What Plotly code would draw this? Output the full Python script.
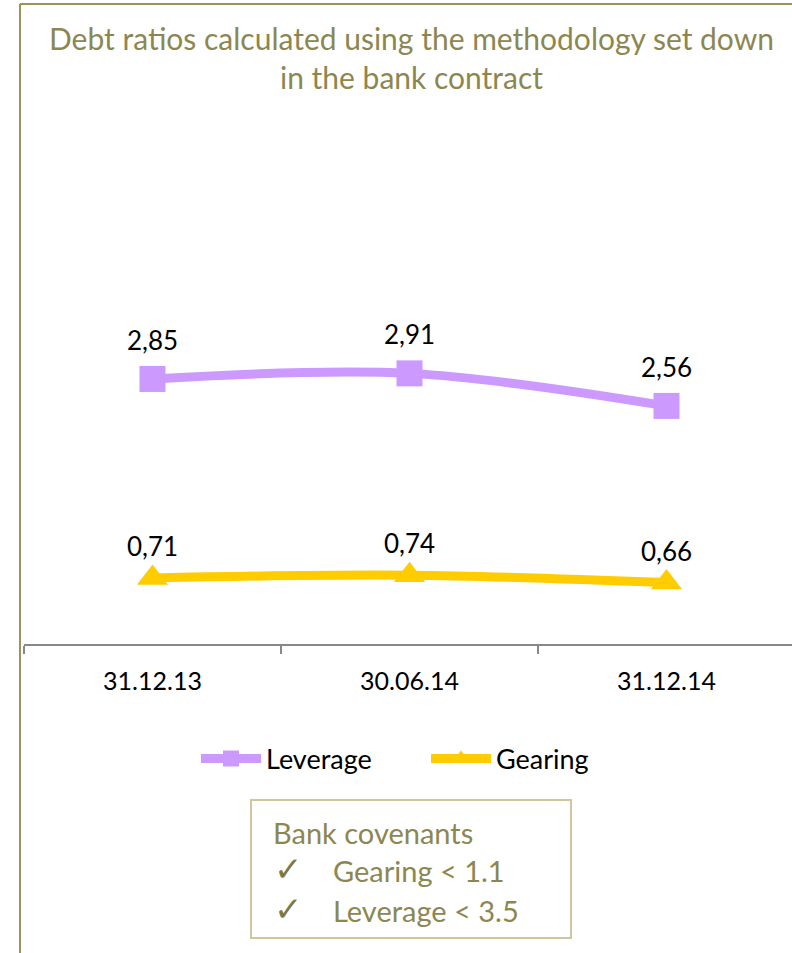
import plotly.graph_objects as go

categories = ["31.12.13", "30.06.14", "31.12.14"]
leverage = [2.85, 2.91, 2.56]
gearing = [0.71, 0.74, 0.66]
title_text = "Debt ratios calculated using the methodology set down<br>in the bank contract"
covenant_lines = ["Bank covenants", "\u2713", "Gearing < 1.1", "\u2713", "Leverage < 3.5"]

W, H = 792, 953
ML, MT, MB = 24, 179, 309
PW = W - ML
PH = H - MT - MB

def px(x):
    return (x - ML) / PW

def py(y):
    return (H - MB - y) / PH

OLIVE = "#8C8750"
FONT = "Lato, 'Open Sans', sans-serif"

fig = go.Figure()
fig.add_trace(go.Scatter(
    x=categories, y=leverage, name="Leverage", mode="lines+markers",
    line=dict(color="#CC99FF", width=9, shape="spline", smoothing=1),
    marker=dict(symbol="square", size=26, color="#CC99FF"),
))
fig.add_trace(go.Scatter(
    x=categories, y=gearing, name="Gearing", mode="lines+markers",
    line=dict(color="#FFCC00", width=9, shape="spline", smoothing=1),
    marker=dict(symbol="triangle-up", size=27, color="#FFCC00"),
))

for series, shift in ((leverage, 39), (gearing, 32)):
    for c, v in zip(categories, series):
        fig.add_annotation(x=c, y=v, text=f"{v:.2f}".replace(".", ","), showarrow=False,
                           yshift=shift, font=dict(size=26, color="#000000", family=FONT))

# title
fig.add_annotation(xref="paper", yref="paper", x=px(411), y=py(58), text=title_text,
                   showarrow=False, xanchor="center", yanchor="middle",
                   font=dict(size=30, color=OLIVE, family=FONT), align="center")

# frame
fig.add_shape(type="line", xref="paper", yref="paper", x0=px(20), x1=px(20), y0=py(4), y1=py(960),
              line=dict(color="#9A9458", width=2))
fig.add_shape(type="line", xref="paper", yref="paper", x0=px(20), x1=px(800), y0=py(4), y1=py(4),
              line=dict(color="#9A9458", width=2))

# covenant box
fig.add_shape(type="rect", xref="paper", yref="paper", x0=px(251), x1=px(571), y0=py(800), y1=py(938),
              line=dict(color="#CFC59E", width=2), fillcolor="white")
cov_pos = [(271, 832), (272, 869), (331, 870), (272, 909), (331, 910)]
for t, (xx, yy) in zip(covenant_lines, cov_pos):
    is_check = t == "\u2713"
    fig.add_annotation(xref="paper", yref="paper", x=px(xx), y=py(yy), text=t, showarrow=False,
                       xanchor="left", yanchor="middle",
                       font=dict(size=34 if is_check else 29, color="#7E7944" if is_check else OLIVE,
                                 family="DejaVu Sans" if is_check else FONT))

fig.update_layout(
    width=W, height=H,
    margin=dict(l=ML, r=0, t=MT, b=MB),
    plot_bgcolor="white", paper_bgcolor="white",
    showlegend=True,
    legend=dict(orientation="h", x=px(426), y=py(759), xanchor="center", yanchor="middle",
                font=dict(size=27, color="#000000", family=FONT), itemwidth=60, entrywidth=155),
    xaxis=dict(type="category", range=[-0.5, -0.5 + PW / 257], showline=True, linecolor="#888888",
               linewidth=2, ticks="outside", tickson="boundaries", ticklen=8, tickcolor="#888888",
               tickwidth=2, showgrid=False, zeroline=False, ticklabelstandoff=14,
               tickfont=dict(size=25, color="#000000", family=FONT)),
    yaxis=dict(range=[0, 5], visible=False, showgrid=False, zeroline=False),
)

fig.write_html("out.html")
